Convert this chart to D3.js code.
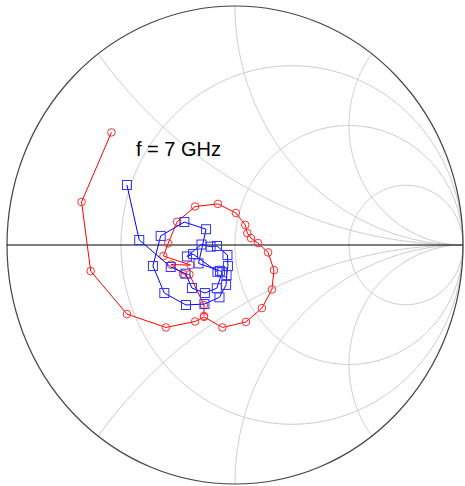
<!DOCTYPE html>
<html>
<head>
<meta charset="utf-8">
<script src="https://cdn.jsdelivr.net/npm/d3@7"></script>
<style>
  body { margin: 0; background: #fff; }
  svg { display: block; }
  .grid { fill: none; stroke: #c8c8c8; stroke-width: 1; }
</style>
</head>
<body>
<svg width="465" height="486"></svg>
<script>
var redRe = [-0.542, -0.673, -0.633, -0.474, -0.303, -0.175, -0.136, -0.055, 0.048, 0.118, 0.162, 0.171, 0.145, 0.101, 0.070, 0.054, 0.045, 0.004, -0.075, -0.175, -0.254, -0.293, -0.314, -0.195, -0.281, -0.228, -0.200, -0.136, -0.136];
var redIm = [0.471, 0.180, -0.109, -0.289, -0.345, -0.320, -0.301, -0.345, -0.322, -0.264, -0.186, -0.105, -0.031, 0.008, 0.029, 0.050, 0.084, 0.134, 0.172, 0.161, 0.097, 0.007, -0.046, -0.084, -0.082, -0.121, -0.123, -0.251, -0.297];

var blueRe = [-0.077, -0.184, -0.211, -0.147, -0.107, -0.079, -0.033, -0.031, -0.037, -0.039, -0.068, -0.134, -0.215, -0.310, -0.360, -0.326, -0.222, -0.127, -0.160, -0.066, -0.056, -0.080, -0.132, -0.189, -0.217, -0.282, -0.420, -0.474];
var blueIm = [-0.112, -0.038, -0.048, 0.002, -0.007, -0.004, -0.042, -0.088, -0.126, -0.167, -0.219, -0.247, -0.251, -0.201, -0.088, 0.038, 0.096, 0.066, -0.077, -0.108, -0.114, -0.181, -0.201, -0.180, -0.120, -0.092, 0.021, 0.251];

var rCircles = [1 / 3, 1, 3];
var xArcs = [0.5, 1, 2, -0.5, -1, -2];
var label = "f = 7 GHz";

var svg = d3.select("svg");
var x = d3.scaleLinear().domain([-1, 1]).range([7, 463]);
var y = d3.scaleLinear().domain([-1, 1]).range([484, 6]);

// z -> gamma
const gamma = (r, xx) => {
	let dr = r + 1, den = dr * dr + xx * xx;
	return [((r - 1) * dr + xx * xx) / den, (2 * xx) / den];
};
var line = d3.line().x((d) => x(d[0])).y((d) => y(d[1]));

var g = svg.append("g");

rCircles.forEach((r) => {
	let pts = d3.range(-89.9, 90, 0.2).map((t) => gamma(r, Math.tan((t * Math.PI) / 180)));
	g.append("path").attr("class", "grid").attr("d", line(pts));
});
xArcs.forEach((xx) => {
	let pts = d3.range(0, 89.95, 0.2).map((t) => gamma(Math.tan((t * Math.PI) / 180), xx));
	pts.push([1, 0]);
	g.append("path").attr("class", "grid").attr("d", line(pts));
});

g.append("ellipse")
	.attr("cx", x(0)).attr("cy", y(0))
	.attr("rx", x(1) - x(0)).attr("ry", y(-1) - y(0))
	.attr("fill", "none").attr("stroke", "#444").attr("stroke-width", 1.2);

g.append("line")
	.attr("x1", x(-1)).attr("x2", x(1)).attr("y1", y(0)).attr("y2", y(0))
	.attr("stroke", "#000").attr("stroke-width", 1.2);

var red = redRe.map((v, i) => [v, redIm[i]]);
var blue = blueRe.map((v, i) => [v, blueIm[i]]);

g.append("path").attr("d", line(red)).attr("fill", "none").attr("stroke", "#ff0000").attr("stroke-width", 1);
g.selectAll(".rm").data(red).enter().append("circle")
	.attr("cx", (d) => x(d[0])).attr("cy", (d) => y(d[1])).attr("r", 3.8)
	.attr("fill", "none").attr("stroke", "#ff3030").attr("stroke-width", 1);

g.append("path").attr("d", line(blue)).attr("fill", "none").attr("stroke", "#0000ff").attr("stroke-width", 1);
g.selectAll(".bm").data(blue).enter().append("rect")
	.attr("x", (d) => x(d[0]) - 4.5).attr("y", (d) => y(d[1]) - 4.5)
	.attr("width", 9).attr("height", 9)
	.attr("fill", "none").attr("stroke", "#3030ff").attr("stroke-width", 1);

svg.append("text")
	.attr("x", 136).attr("y", 156)
	.attr("font-family", "Liberation Sans, Arial, sans-serif")
	.attr("font-size", 20)
	.text(label);
</script>
</body>
</html>
